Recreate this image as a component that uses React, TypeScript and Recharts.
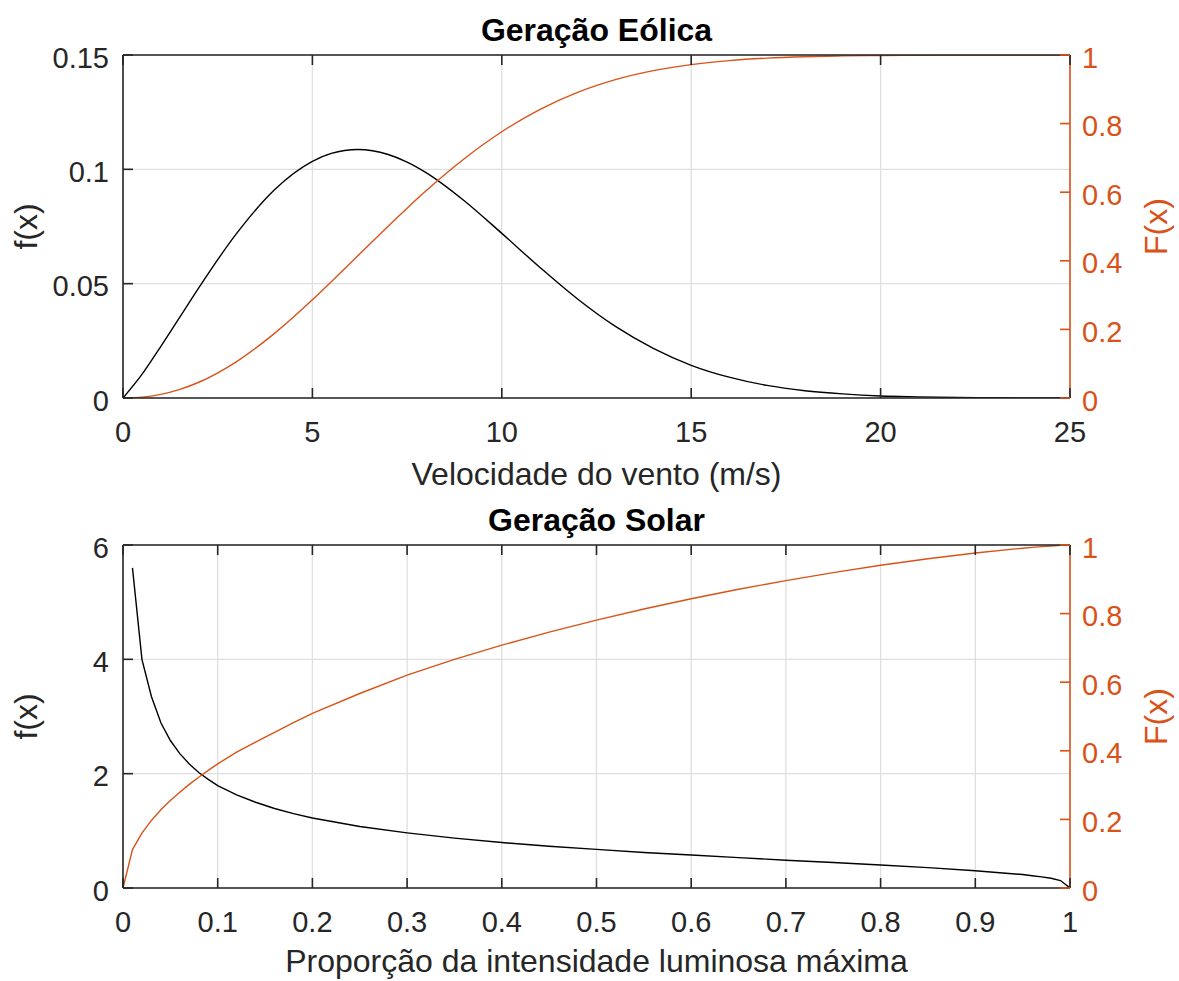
import React from 'react';
import { LineChart, Line, XAxis, YAxis, CartesianGrid, Label } from 'recharts';

// Geração Eólica: wind speed (m/s), density f(x) and cumulative F(x)
const windSpeed = [0, 0.5, 1, 1.5, 2, 3, 4, 5, 5.5, 6.2, 7, 7.5, 8, 9, 10, 11, 12, 13, 14, 15, 16, 17, 18, 19, 20, 21, 22, 23, 24, 25];
const windPdf = [
  0, 0.0103, 0.0226, 0.0354, 0.0482, 0.072, 0.0911, 0.1035, 0.107, 0.1087, 0.1065, 0.1032, 0.0986, 0.0864,
  0.072, 0.0572, 0.0433, 0.0313, 0.0217, 0.0143, 0.0091, 0.0055, 0.0032, 0.0018, 0.0009, 0.0005, 0.0002, 0.0001,
  0.00005, 0.00002,
];
const windCdf = [
  0, 0.0024, 0.0105, 0.025, 0.0459, 0.1063, 0.1884, 0.2862, 0.3389, 0.4146, 0.501, 0.5535, 0.604, 0.6968,
  0.7762, 0.8407, 0.8909, 0.928, 0.9543, 0.9721, 0.9836, 0.9908, 0.995, 0.9974, 0.9987, 0.9994, 0.9997, 0.9999,
  1, 1,
];
const windXTicks = [0, 5, 10, 15, 20, 25];
const windPdfTicks = [0, 0.05, 0.1, 0.15];

// Geração Solar: proportion of max light intensity
const lightRatio = [
  0, 0.01, 0.02, 0.03, 0.04, 0.05, 0.06, 0.07, 0.08, 0.09, 0.1,
  0.12, 0.14, 0.16, 0.18, 0.2,
  0.25, 0.3, 0.35, 0.4, 0.45, 0.5, 0.55, 0.6, 0.65, 0.7, 0.75, 0.8, 0.85, 0.9, 0.95,
  0.96, 0.97, 0.98, 0.99, 1,
];
const lightPdf = [
  null, 5.6, 4.0, 3.35, 2.89, 2.58, 2.35, 2.17, 2.02, 1.9, 1.79,
  1.63, 1.5, 1.39, 1.3, 1.225,
  1.075, 0.965, 0.872, 0.795, 0.73, 0.675, 0.622, 0.576, 0.531, 0.486, 0.445, 0.402, 0.357, 0.302, 0.235,
  0.215, 0.195, 0.17, 0.13, 0,
];
const lightCdf = [
  0, 0.112, 0.16, 0.197, 0.228, 0.255, 0.279, 0.302, 0.323, 0.343, 0.362,
  0.396, 0.425, 0.454, 0.482, 0.509,
  0.567, 0.6207, 0.6664, 0.708, 0.746, 0.7811, 0.8134, 0.8433, 0.8709, 0.8963, 0.9196, 0.9409, 0.96, 0.9768, 0.9907,
  0.9931, 0.9952, 0.9972, 0.9989, 1,
];
const lightXTicks = [0, 0.1, 0.2, 0.3, 0.4, 0.5, 0.6, 0.7, 0.8, 0.9, 1];
const lightPdfTicks = [0, 2, 4, 6];

const cdfTicks = [0, 0.2, 0.4, 0.6, 0.8, 1];

const AXIS = '#262626';
const ORANGE = '#D95319';
const GRID = '#dfdfdf';
const FONT = '"Liberation Sans", Arial, Helvetica, sans-serif';

const W = 1179;
const CHART_H = 500;
const LEFT_W = 123;
const RIGHT_W = 109;
const PLOT_RIGHT = W - RIGHT_W;
const TOP = 55;
const TOP_AXIS_H = 10;
const PLOT_BOTTOM = 398;
const X_AXIS_H = 40;
const TICK_LEN = 10;
const AXIS_W = 1.6;

const BottomTick = (props: any) => (
  <g>
    <line x1={props.x} x2={props.x} y1={PLOT_BOTTOM} y2={PLOT_BOTTOM - TICK_LEN} stroke={AXIS} strokeWidth={AXIS_W} />
    <text x={props.x} y={props.y} dy={20} textAnchor="middle" fontSize={29} fill={AXIS} fontFamily={FONT}>
      {String(props.payload.value)}
    </text>
  </g>
);

const TopTick = (props: any) => (
  <line x1={props.x} x2={props.x} y1={TOP} y2={TOP + TICK_LEN} stroke={AXIS} strokeWidth={AXIS_W} />
);

const LeftTick = (props: any) => (
  <g>
    <line x1={LEFT_W} x2={LEFT_W + TICK_LEN} y1={props.y} y2={props.y} stroke={AXIS} strokeWidth={AXIS_W} />
    <text x={props.x} y={props.y} dy={12.5} textAnchor="end" fontSize={29} fill={AXIS} fontFamily={FONT}>
      {String(props.payload.value)}
    </text>
  </g>
);

const RightTick = (props: any) => (
  <g>
    <line x1={PLOT_RIGHT} x2={PLOT_RIGHT - TICK_LEN} y1={props.y} y2={props.y} stroke={ORANGE} strokeWidth={AXIS_W} />
    <text x={props.x} y={props.y} dy={12.5} textAnchor="start" fontSize={29} fill={ORANGE} fontFamily={FONT}>
      {String(props.payload.value)}
    </text>
  </g>
);

interface PanelProps {
  title: string;
  xLabel: string;
  labelY: number;
  data: { x: number; pdf: number | null; cdf: number }[];
  xDomain: [number, number];
  xTicks: number[];
  yDomain: [number, number];
  yTicks: number[];
  curve: 'monotone' | 'linear';
}

const Panel = ({ title, xLabel, labelY, data, xDomain, xTicks, yDomain, yTicks, curve }: PanelProps) => {
  const cx = (LEFT_W + PLOT_RIGHT) / 2;
  const cy = (TOP + PLOT_BOTTOM) / 2;
  return (
    <LineChart
      width={W}
      height={CHART_H}
      data={data}
      margin={{ top: TOP - TOP_AXIS_H, right: 0, bottom: CHART_H - PLOT_BOTTOM - X_AXIS_H, left: 0 }}
    >
      <CartesianGrid xAxisId="bottom" yAxisId="left" stroke={GRID} strokeWidth={1.3} />
      <XAxis
        xAxisId="bottom"
        dataKey="x"
        type="number"
        domain={xDomain}
        ticks={xTicks}
        interval={0}
        allowDataOverflow
        height={X_AXIS_H}
        stroke={AXIS}
        strokeWidth={AXIS_W}
        tickLine={false}
        tickSize={0}
        tickMargin={24}
        tick={<BottomTick />}
      >
        <Label
          content={() => (
            <text x={cx} y={labelY} textAnchor="middle" fontSize={32} fill={AXIS} fontFamily={FONT}>
              {xLabel}
            </text>
          )}
        />
      </XAxis>
      <XAxis
        xAxisId="top"
        orientation="top"
        dataKey="x"
        type="number"
        domain={xDomain}
        ticks={xTicks}
        interval={0}
        allowDataOverflow
        height={TOP_AXIS_H}
        stroke={AXIS}
        strokeWidth={AXIS_W}
        tickLine={false}
        tickSize={0}
        tick={<TopTick />}
      >
        <Label
          content={() => (
            <text x={cx} y={40.5} textAnchor="middle" fontSize={32} fontWeight="bold" fill="#000" fontFamily={FONT}>
              {title}
            </text>
          )}
        />
      </XAxis>
      <YAxis
        yAxisId="left"
        type="number"
        domain={yDomain}
        ticks={yTicks}
        interval={0}
        allowDataOverflow
        width={LEFT_W}
        stroke={AXIS}
        strokeWidth={AXIS_W}
        tickLine={false}
        tickSize={0}
        tickMargin={14}
        tick={<LeftTick />}
      >
        <Label
          content={() => (
            <text
              transform={`translate(37,${cy}) rotate(-90)`}
              textAnchor="middle"
              fontSize={32}
              fill={AXIS}
              fontFamily={FONT}
            >
              f(x)
            </text>
          )}
        />
      </YAxis>
      <YAxis
        yAxisId="right"
        orientation="right"
        type="number"
        domain={[0, 1]}
        ticks={cdfTicks}
        interval={0}
        allowDataOverflow
        width={RIGHT_W}
        stroke={ORANGE}
        strokeWidth={AXIS_W}
        tickLine={false}
        tickSize={0}
        tickMargin={12}
        tick={<RightTick />}
      >
        <Label
          content={() => (
            <text
              transform={`translate(1167,${cy}) rotate(-90)`}
              textAnchor="middle"
              fontSize={32}
              fill={ORANGE}
              fontFamily={FONT}
            >
              F(x)
            </text>
          )}
        />
      </YAxis>
      <Line
        xAxisId="bottom"
        yAxisId="left"
        dataKey="pdf"
        type={curve}
        stroke="#000"
        strokeWidth={1.4}
        dot={false}
        activeDot={false}
        isAnimationActive={false}
      />
      <Line
        xAxisId="bottom"
        yAxisId="right"
        dataKey="cdf"
        type={curve}
        stroke={ORANGE}
        strokeWidth={1.4}
        dot={false}
        activeDot={false}
        isAnimationActive={false}
      />
    </LineChart>
  );
};

const windData = windSpeed.map((x, i) => ({ x, pdf: windPdf[i], cdf: windCdf[i] }));
const lightData = lightRatio.map((x, i) => ({ x, pdf: lightPdf[i], cdf: lightCdf[i] }));

export default function App() {
  return (
    <div
      style={{
        position: 'absolute',
        left: 0,
        top: 0,
        width: W,
        height: 981,
        overflow: 'hidden',
        background: '#fff',
        fontFamily: FONT,
      }}
    >
      <div style={{ position: 'absolute', left: 0, top: 0 }}>
        <Panel
          title="Geração Eólica"
          xLabel="Velocidade do vento (m/s)"
          labelY={485}
          data={windData}
          xDomain={[0, 25]}
          xTicks={windXTicks}
          yDomain={[0, 0.15]}
          yTicks={windPdfTicks}
          curve="monotone"
        />
      </div>
      <div style={{ position: 'absolute', left: 0, top: 490 }}>
        <Panel
          title="Geração Solar"
          xLabel="Proporção da intensidade luminosa máxima"
          labelY={482}
          data={lightData}
          xDomain={[0, 1]}
          xTicks={lightXTicks}
          yDomain={[0, 6]}
          yTicks={lightPdfTicks}
          curve="linear"
        />
      </div>
    </div>
  );
}
